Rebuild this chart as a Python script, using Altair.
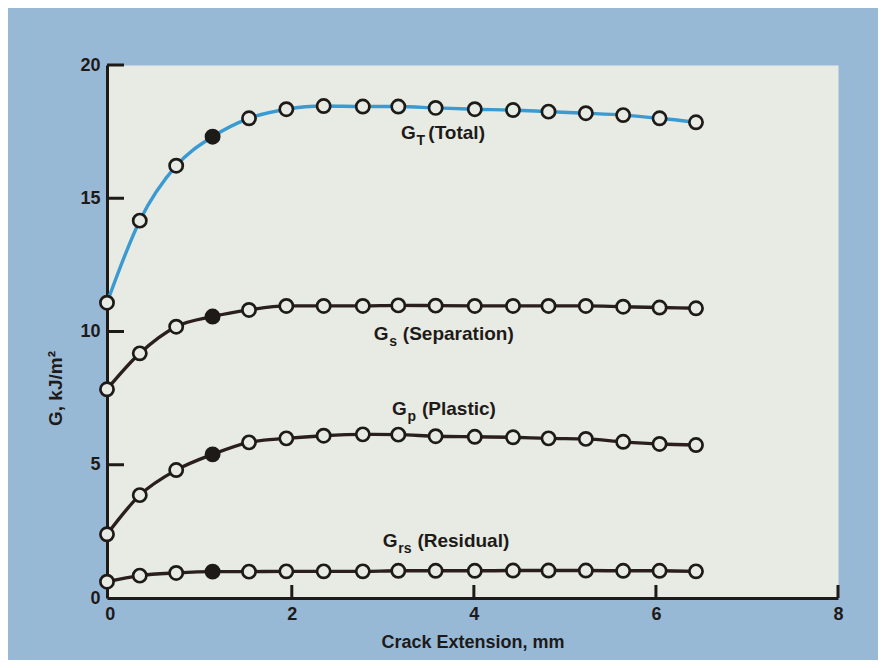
import altair as alt
import pandas as pd

# ---- data ----
crack_mm = [-0.03, 0.33, 0.73, 1.13, 1.53, 1.94, 2.35, 2.78, 3.17, 3.58,
            4.01, 4.43, 4.82, 5.23, 5.64, 6.04, 6.44]
g_total = [11.08, 14.16, 16.22, 17.31, 18.0, 18.34, 18.46, 18.44, 18.44, 18.39,
           18.34, 18.31, 18.25, 18.19, 18.12, 18.0, 17.85]
g_sep = [7.83, 9.18, 10.18, 10.56, 10.81, 10.96, 10.96, 10.96, 10.98, 10.97,
         10.96, 10.96, 10.96, 10.96, 10.93, 10.9, 10.87]
g_plastic = [2.39, 3.86, 4.80, 5.39, 5.84, 5.99, 6.09, 6.14, 6.13, 6.07,
             6.05, 6.03, 5.99, 5.97, 5.86, 5.78, 5.74]
g_resid = [0.61, 0.84, 0.94, 0.99, 0.99, 1.0, 1.0, 1.0, 1.02, 1.02,
           1.02, 1.03, 1.03, 1.03, 1.02, 1.02, 1.0]
filled_index = 3  # the solid marker in every curve

series_names = ["Total", "Separation", "Plastic", "Residual"]
series_values = [g_total, g_sep, g_plastic, g_resid]
series_colors = ["#3b9ad2", "#2a1f1c", "#2a1f1c", "#2a1f1c"]

# curve labels: main letter, subscript, rest; anchors in data units
label_main = ["G", "G", "G", "G"]
label_sub = ["T", "s", "p", "rs"]
label_rest = ["(Total)", "(Separation)", "(Plastic)", "(Residual)"]
label_x_main = [3.20, 2.90, 3.10, 3.00]
label_x_sub = [3.37, 3.07, 3.27, 3.17]
label_x_rest = [3.50, 3.22, 3.43, 3.38]
label_y = [17.22, 9.68, 6.87, 1.91]

x_ticks = [0, 2, 4, 6, 8]
y_ticks = [0, 5, 10, 15, 20]
x_inner_ticks = [2, 4, 6, 8]
y_inner_ticks = [5, 10, 15, 20]

# ---- tables ----
rows = []
for name, vals in zip(series_names, series_values):
    for i, (xv, yv) in enumerate(zip(crack_mm, vals)):
        rows.append({"series": name, "x": xv, "y": yv, "i": i,
                     "solid": i == filled_index})
df = pd.DataFrame(rows)

labels = pd.DataFrame({"main": label_main, "sub": label_sub, "rest": label_rest,
                       "xm": label_x_main, "xs": label_x_sub, "xr": label_x_rest,
                       "y": label_y})

W, H = 731, 533
FONT = "Liberation Sans"
PANEL = "#e7ebe4"
INK = "#1e1a18"

xs = alt.Scale(domain=[-0.03, 8], nice=False, zero=False)
ys = alt.Scale(domain=[0, 20], nice=False)
color = alt.Color("series:N", scale=alt.Scale(domain=series_names, range=series_colors),
                  legend=None)

x_axis = alt.Axis(values=x_ticks, format="d", ticks=False, grid=False, domainColor=INK,
                  domainWidth=3, labelFont=FONT, labelFontSize=18, labelFontWeight="bold",
                  labelColor=INK, labelPadding=7, labelFlush=False,
                  title="Crack Extension, mm", titleFont=FONT, titleFontSize=18,
                  titleFontWeight="bold", titleColor=INK, titlePadding=10)
y_axis = alt.Axis(values=y_ticks, format="d", ticks=False, grid=False, domainColor=INK,
                  domainWidth=3, labelFont=FONT, labelFontSize=18, labelFontWeight="bold",
                  labelColor=INK, labelPadding=7, labelFlush=False,
                  title="G, kJ/m²", titleFont=FONT, titleFontSize=19, titleFontWeight="bold",
                  titleColor=INK, titleX=-52, titleY=323, titleAngle=270,
                  titleAlign="center", titleBaseline="middle")

base = alt.Chart(df)
lines = base.mark_line(strokeWidth=3.4, interpolate="monotone").encode(
    x=alt.X("x:Q", scale=xs, axis=x_axis),
    y=alt.Y("y:Q", scale=ys, axis=y_axis),
    color=color,
    detail="series:N",
)
points = base.mark_point(shape="circle", filled=True, size=175, stroke=INK,
                         strokeWidth=2.7, opacity=1).encode(
    x=alt.X("x:Q", scale=xs),
    y=alt.Y("y:Q", scale=ys),
    fill=alt.condition("datum.solid", alt.value(INK), alt.value(PANEL)),
)

ytick_df = pd.DataFrame({"v": y_inner_ticks})
xtick_df = pd.DataFrame({"v": x_inner_ticks})
yticks = alt.Chart(ytick_df).mark_rule(color=INK, strokeWidth=3).encode(
    y=alt.Y("v:Q", scale=ys), x=alt.value(0), x2=alt.value(17))
xticks = alt.Chart(xtick_df).mark_rule(color=INK, strokeWidth=3).encode(
    x=alt.X("v:Q", scale=xs), y=alt.value(H), y2=alt.value(H - 13))

lab = alt.Chart(labels)
t_main = lab.mark_text(align="left", baseline="alphabetic", font=FONT, fontSize=19,
                       fontWeight="bold", color=INK).encode(
    x=alt.X("xm:Q", scale=xs), y=alt.Y("y:Q", scale=ys), text="main:N")
t_sub = lab.mark_text(align="left", baseline="alphabetic", font=FONT, fontSize=14,
                      fontWeight="bold", color=INK, dy=6).encode(
    x=alt.X("xs:Q", scale=xs), y=alt.Y("y:Q", scale=ys), text="sub:N")
t_rest = lab.mark_text(align="left", baseline="alphabetic", font=FONT, fontSize=19,
                       fontWeight="bold", color=INK).encode(
    x=alt.X("xr:Q", scale=xs), y=alt.Y("y:Q", scale=ys), text="rest:N")

chart = alt.layer(yticks, xticks, lines, points, t_main, t_sub, t_rest).properties(
    width=W, height=H,
    autosize=alt.AutoSizeParams(type="none"),
    padding={"left": 99, "top": 57, "right": 40, "bottom": 62},
    background="#98b9d6",
).configure_view(fill=PANEL, stroke="transparent")

chart.save("out.html", embed_options={"renderer": "svg", "actions": False})
